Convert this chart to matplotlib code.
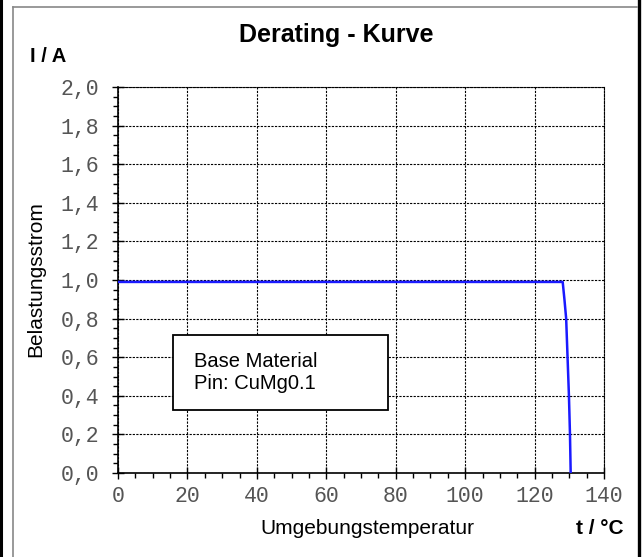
import matplotlib
matplotlib.use("Agg")
import matplotlib.pyplot as plt
from matplotlib.ticker import MultipleLocator, FuncFormatter
from matplotlib.patches import Rectangle
from matplotlib.lines import Line2D

# derating curve: load current vs ambient temperature
temp_c = [0, 128.1, 128.6, 129.1, 129.5, 129.9, 130.2, 130.4]
current_a = [0.99, 0.99, 0.9, 0.8, 0.6, 0.4, 0.2, 0.0]

x_ticks = [0, 20, 40, 60, 80, 100, 120, 140]
y_ticks = [0.0, 0.2, 0.4, 0.6, 0.8, 1.0, 1.2, 1.4, 1.6, 1.8, 2.0]

W, H = 643, 557
fig = plt.figure(figsize=(W / 100, H / 100), dpi=100)

# outer frame: black bars left/right, grey border
fig.add_artist(Line2D([1 / W, 1 / W], [0, 1], color="black", lw=2.2))
fig.add_artist(Line2D([638.5 / W, 638.5 / W], [0, 1], color="black", lw=2.4))
fig.add_artist(Line2D([13 / W, 13 / W], [0, 1 - 7 / H], color="#888888", lw=1.2))
fig.add_artist(Line2D([13 / W, 637 / W], [1 - 7 / H, 1 - 7 / H], color="#888888", lw=1.2))

ax = fig.add_axes([118 / W, (H - 473) / H, (604 - 118) / W, (473 - 87) / H])
ax.plot(temp_c, current_a, color="#1a1aff", lw=1.8, zorder=3)

ax.set_xlim(0, 140)
ax.set_ylim(0, 2.0)
ax.set_xticks(x_ticks)
ax.set_yticks(y_ticks)
ax.xaxis.set_minor_locator(MultipleLocator(5))
ax.yaxis.set_minor_locator(MultipleLocator(0.05))
ax.yaxis.set_major_formatter(FuncFormatter(lambda v, p: f"{v:.1f}".replace(".", ",")))

for lbl in ax.get_xticklabels() + ax.get_yticklabels():
    lbl.set_fontfamily("Liberation Mono")
    lbl.set_fontsize(15.5)
    lbl.set_color("#555555")

ax.tick_params(which="major", direction="inout", length=8.6, width=1.0, color="black")
ax.tick_params(axis="y", which="major", pad=9)
ax.tick_params(axis="x", which="major", pad=5)
ax.tick_params(which="minor", direction="out", length=3.4, width=1.0, color="black")
ax.tick_params(which="both", top=False, right=False)

ax.grid(True, which="major", color="black", linestyle=(0, (2, 1.2)), lw=0.8)
for side in ("top", "right"):
    ax.spines[side].set_linestyle((0, (2, 1.2)))
    ax.spines[side].set_linewidth(0.8)
for side in ("left", "bottom"):
    ax.spines[side].set_linewidth(1.2)

# info box
ax.add_patch(Rectangle((15.8, 0.326), 62.0, 0.389, facecolor="white",
                       edgecolor="black", lw=1.3, zorder=4))
ax.text(22.0, 0.52, "Base Material\nPin: CuMg0.1", family="Liberation Sans",
        fontsize=14.5, va="center", ha="left", linespacing=1.2, zorder=5)

sans = "Liberation Sans"
fig.text(336 / W, 1 - 35 / H, "Derating - Kurve", family=sans, fontsize=18,
         fontweight="bold", ha="center", va="center")
fig.text(30 / W, 1 - 57 / H, "I / A", family=sans, fontsize=14.5,
         fontweight="bold", ha="left", va="center")
fig.text(36 / W, 1 - 279 / H, "Belastungsstrom", family=sans, fontsize=15,
         rotation=90, ha="center", va="center")
fig.text(367 / W, 1 - 528 / H, "Umgebungstemperatur", family=sans, fontsize=15,
         ha="center", va="center")
fig.text(624 / W, 1 - 528 / H, "t / °C", family=sans, fontsize=15,
         fontweight="bold", ha="right", va="center")

fig.savefig("out.png", dpi=100, facecolor="white")
